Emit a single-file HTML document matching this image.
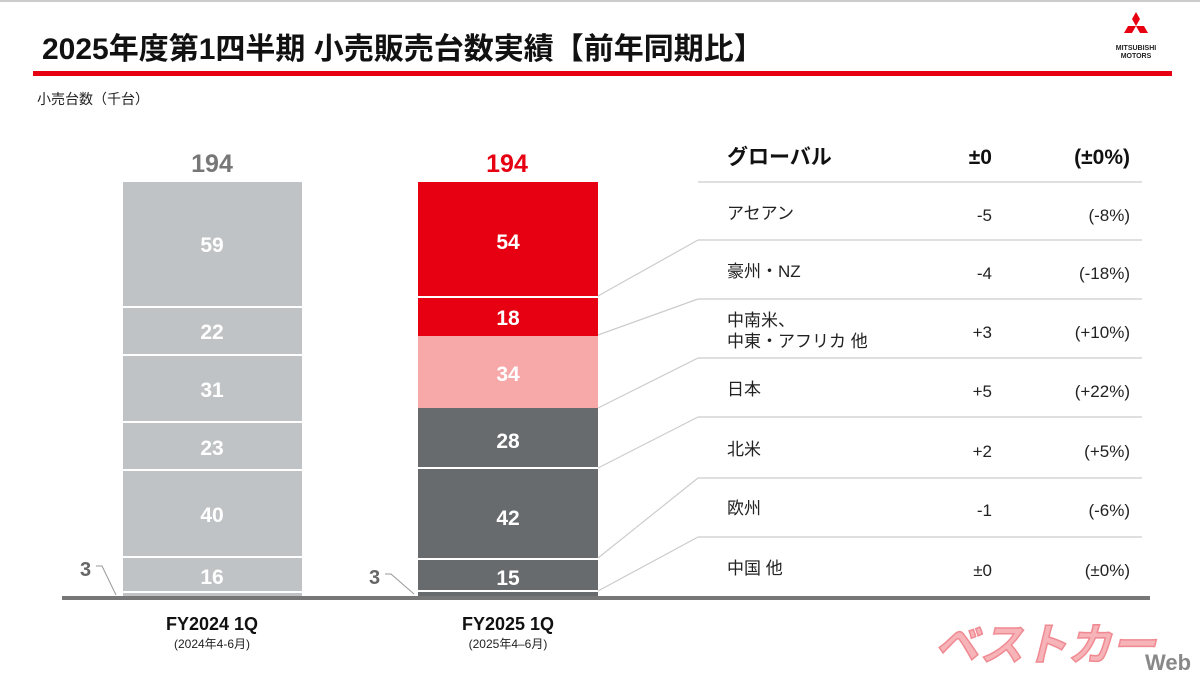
<!DOCTYPE html>
<html><head><meta charset="utf-8"><style>
html,body{margin:0;padding:0;background:#fff;}
svg{display:block;}
</style></head><body>
<svg width="1200" height="675" viewBox="0 0 1200 675" xmlns="http://www.w3.org/2000/svg" font-family="'Liberation Sans','Noto Sans CJK JP',sans-serif">
<rect width="1200" height="675" fill="#fff"/>
<rect x="0" y="0" width="1200" height="2" fill="#ccc"/>
<text x="42" y="59" font-size="30" font-weight="bold" fill="#111">2025年度第1四半期 小売販売台数実績【前年同期比】</text>
<rect x="33" y="71" width="1139" height="5" fill="#e60012"/>
<g fill="#e60012">
<polygon points="1136,12 1140,19 1136,26 1132,19"/>
<polygon points="1136,26 1128,26 1124,33 1132,33"/>
<polygon points="1136,26 1144,26 1148,33 1140,33"/>
</g>
<text x="1136" y="50" font-size="7" font-weight="bold" text-anchor="middle" fill="#222">MITSUBISHI</text>
<text x="1136" y="58" font-size="7" font-weight="bold" text-anchor="middle" fill="#222">MOTORS</text>
<text x="37" y="104" font-size="14" fill="#222">小売台数（千台）</text>

<rect x="123" y="182" width="179" height="415" fill="#c0c3c5"/>
<g stroke="#fff" stroke-width="2">
<line x1="123" y1="307" x2="302" y2="307"/>
<line x1="123" y1="355" x2="302" y2="355"/>
<line x1="123" y1="422" x2="302" y2="422"/>
<line x1="123" y1="470" x2="302" y2="470"/>
<line x1="123" y1="557" x2="302" y2="557"/>
<line x1="123" y1="592" x2="302" y2="592"/>
</g>
<g font-size="21" font-weight="bold" fill="#fff" text-anchor="middle">
<text x="212" y="252">59</text>
<text x="212" y="339">22</text>
<text x="212" y="397">31</text>
<text x="212" y="455">23</text>
<text x="212" y="522">40</text>
<text x="212" y="584">16</text>
</g>
<text x="212" y="172" font-size="25" font-weight="bold" fill="#777" text-anchor="middle">194</text>

<rect x="418" y="182" width="180" height="115" fill="#e60012"/>
<rect x="418" y="297" width="180" height="39" fill="#e60012"/>
<rect x="418" y="336" width="180" height="72" fill="#f7a8a8"/>
<rect x="418" y="408" width="180" height="189" fill="#676b6e"/>
<g stroke="#fff" stroke-width="2">
<line x1="418" y1="297" x2="598" y2="297"/>
<line x1="418" y1="468" x2="598" y2="468"/>
<line x1="418" y1="559" x2="598" y2="559"/>
<line x1="418" y1="591" x2="598" y2="591"/>
</g>
<g font-size="21" font-weight="bold" fill="#fff" text-anchor="middle">
<text x="508" y="249">54</text>
<text x="508" y="325">18</text>
<text x="508" y="381">34</text>
<text x="508" y="448">28</text>
<text x="508" y="525">42</text>
<text x="508" y="585">15</text>
</g>
<text x="507" y="172" font-size="25" font-weight="bold" fill="#e60012" text-anchor="middle">194</text>

<g font-size="20" font-weight="bold" fill="#666">
<text x="80" y="576">3</text>
<text x="369" y="584">3</text>
</g>
<g stroke="#999" stroke-width="1" fill="none">
<polyline points="96,566 102,566 116,595"/>
<polyline points="385,574 391,574 414,594"/>
</g>

<rect x="62" y="596" width="1088" height="4" fill="#777"/>

<text x="212" y="630" font-size="18" font-weight="bold" fill="#111" text-anchor="middle">FY2024 1Q</text>
<text x="212" y="648" font-size="12" fill="#222" text-anchor="middle">(2024年4-6月)</text>
<text x="508" y="630" font-size="18" font-weight="bold" fill="#111" text-anchor="middle">FY2025 1Q</text>
<text x="508" y="648" font-size="12" fill="#222" text-anchor="middle">(2025年4–6月)</text>

<g stroke="#ccc" stroke-width="1.2">
<line x1="698" y1="182" x2="1142" y2="182"/>
<line x1="698" y1="240" x2="1142" y2="240"/>
<line x1="698" y1="299" x2="1142" y2="299"/>
<line x1="698" y1="358" x2="1142" y2="358"/>
<line x1="698" y1="417" x2="1142" y2="417"/>
<line x1="698" y1="478" x2="1142" y2="478"/>
<line x1="698" y1="537" x2="1142" y2="537"/>
<line x1="598" y1="296" x2="698" y2="240"/>
<line x1="598" y1="335" x2="698" y2="299"/>
<line x1="598" y1="408" x2="698" y2="358"/>
<line x1="598" y1="468" x2="698" y2="417"/>
<line x1="598" y1="558" x2="698" y2="478"/>
<line x1="598" y1="591" x2="698" y2="537"/>
</g>

<g font-size="21" font-weight="bold" fill="#111">
<text x="727" y="164">グローバル</text>
<text x="992" y="164" text-anchor="end">±0</text>
<text x="1130" y="164" text-anchor="end">(±0%)</text>
</g>
<g font-size="17" fill="#222">
<text x="727" y="219">アセアン</text><text x="992" y="221" text-anchor="end">-5</text><text x="1130" y="221" text-anchor="end">(-8%)</text>
<text x="727" y="277">豪州・NZ</text><text x="992" y="279" text-anchor="end">-4</text><text x="1130" y="279" text-anchor="end">(-18%)</text>
<text x="727" y="326">中南米、</text><text x="727" y="347">中東・アフリカ 他</text><text x="992" y="338" text-anchor="end">+3</text><text x="1130" y="338" text-anchor="end">(+10%)</text>
<text x="727" y="395">日本</text><text x="992" y="397" text-anchor="end">+5</text><text x="1130" y="397" text-anchor="end">(+22%)</text>
<text x="727" y="455">北米</text><text x="992" y="457" text-anchor="end">+2</text><text x="1130" y="457" text-anchor="end">(+5%)</text>
<text x="727" y="514">欧州</text><text x="992" y="516" text-anchor="end">-1</text><text x="1130" y="516" text-anchor="end">(-6%)</text>
<text x="727" y="574">中国 他</text><text x="992" y="576" text-anchor="end">±0</text><text x="1130" y="576" text-anchor="end">(±0%)</text>
</g>

<text x="1045" y="660" font-size="44" font-weight="bold" font-style="italic" fill="#f6b3b8" stroke="#f08a92" stroke-width="1.5" text-anchor="middle">ベストカー</text>
<text x="1145" y="670" font-size="22" font-weight="bold" fill="#888">Web</text>
</svg>
</body></html>
